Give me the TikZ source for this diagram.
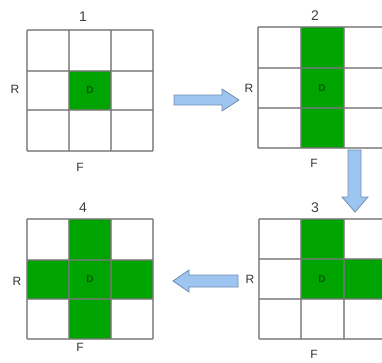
\documentclass[tikz,border=0pt]{standalone}
\usepackage{fontspec}
\setmainfont{Liberation Sans}
\definecolor{cellgreen}{RGB}{0,164,0}
\definecolor{dgreen}{RGB}{0,90,0}
\definecolor{gline}{RGB}{120,120,120}
\definecolor{arrfill}{RGB}{157,197,240}
\definecolor{arrdraw}{RGB}{110,140,180}
\tikzset{
  gridline/.style={draw=gline, line width=1.3pt, opacity=0.75},
  greencell/.style={fill=cellgreen},
  lbl/.style={font=\fontsize{12}{13}\selectfont, text=black!80, inner sep=0pt},
  numlbl/.style={font=\fontsize{14}{15}\selectfont, text=black!75, inner sep=0pt},
  dlbl/.style={font=\fontsize{10}{11}\selectfont\bfseries, text=dgreen, inner sep=0pt},
  blockarrow/.style={fill=arrfill, draw=arrdraw, line width=0.8pt, line join=miter}
}
\begin{document}
\begin{tikzpicture}[x=1pt,y=-1pt]
\useasboundingbox (0,0) rectangle (382,362);
\begin{scope}
\clip (0,0) rectangle (382,362);
% grid 1
\fill[greencell] (69,71) rectangle (111,110);
\foreach \x in {27,69,111,153} \draw[gridline] (\x,30) -- (\x,151);
\foreach \y in {30,71,110,151} \draw[gridline] (27,\y) -- (153,\y);
% grid 2
\fill[greencell] (301,27) rectangle (344,148);
\foreach \x in {258,301,344,386} \draw[gridline] (\x,27) -- (\x,148);
\foreach \y in {27,68,108,148} \draw[gridline] (258,\y) -- (386,\y);
% grid 3
\fill[greencell] (301,219) rectangle (344,259);
\fill[greencell] (301,259) rectangle (386,299);
\foreach \x in {259,301,344,386} \draw[gridline] (\x,219) -- (\x,339);
\foreach \y in {219,259,299,339} \draw[gridline] (259,\y) -- (386,\y);
% grid 4
\fill[greencell] (69,219) rectangle (111,339);
\fill[greencell] (27,260) rectangle (153,299);
\foreach \x in {27,69,111,153} \draw[gridline] (\x,219) -- (\x,339);
\foreach \y in {219,260,299,339} \draw[gridline] (27,\y) -- (153,\y);
\end{scope}
% labels grid 1
\node[numlbl] (n1) at (83,17) {1};
\node[lbl] (r1) at (15,89) {R};
\node[lbl] (f1) at (80,167) {F};
\node[dlbl] (d1) at (90,90) {D};
% labels grid 2
\node[numlbl] (n2) at (315,16) {2};
\node[lbl] (r2) at (249,88) {R};
\node[lbl] (f2) at (314,163) {F};
\node[dlbl] (d2) at (322,88) {D};
% labels grid 3
\node[numlbl] (n3) at (315,208) {3};
\node[lbl] (r3) at (250,279) {R};
\node[lbl] (f3) at (314,354) {F};
\node[dlbl] (d3) at (322,279) {D};
% labels grid 4
\node[numlbl] (n4) at (83,208) {4};
\node[lbl] (r4) at (17,281) {R};
\node[lbl] (f4) at (80,347) {F};
\node[dlbl] (d4) at (90,279) {D};
% arrows
\draw[blockarrow] (174,95) -- (222,95) -- (222,89) -- (239,100) -- (222,111) -- (222,105) -- (174,105) -- cycle;
\draw[blockarrow] (348,150) -- (361,150) -- (361,197) -- (368,197) -- (355,212) -- (342,197) -- (348,197) -- cycle;
\draw[blockarrow] (238,275) -- (189,275) -- (189,270) -- (173,281) -- (189,292) -- (189,287) -- (238,287) -- cycle;
\end{tikzpicture}
\end{document}
